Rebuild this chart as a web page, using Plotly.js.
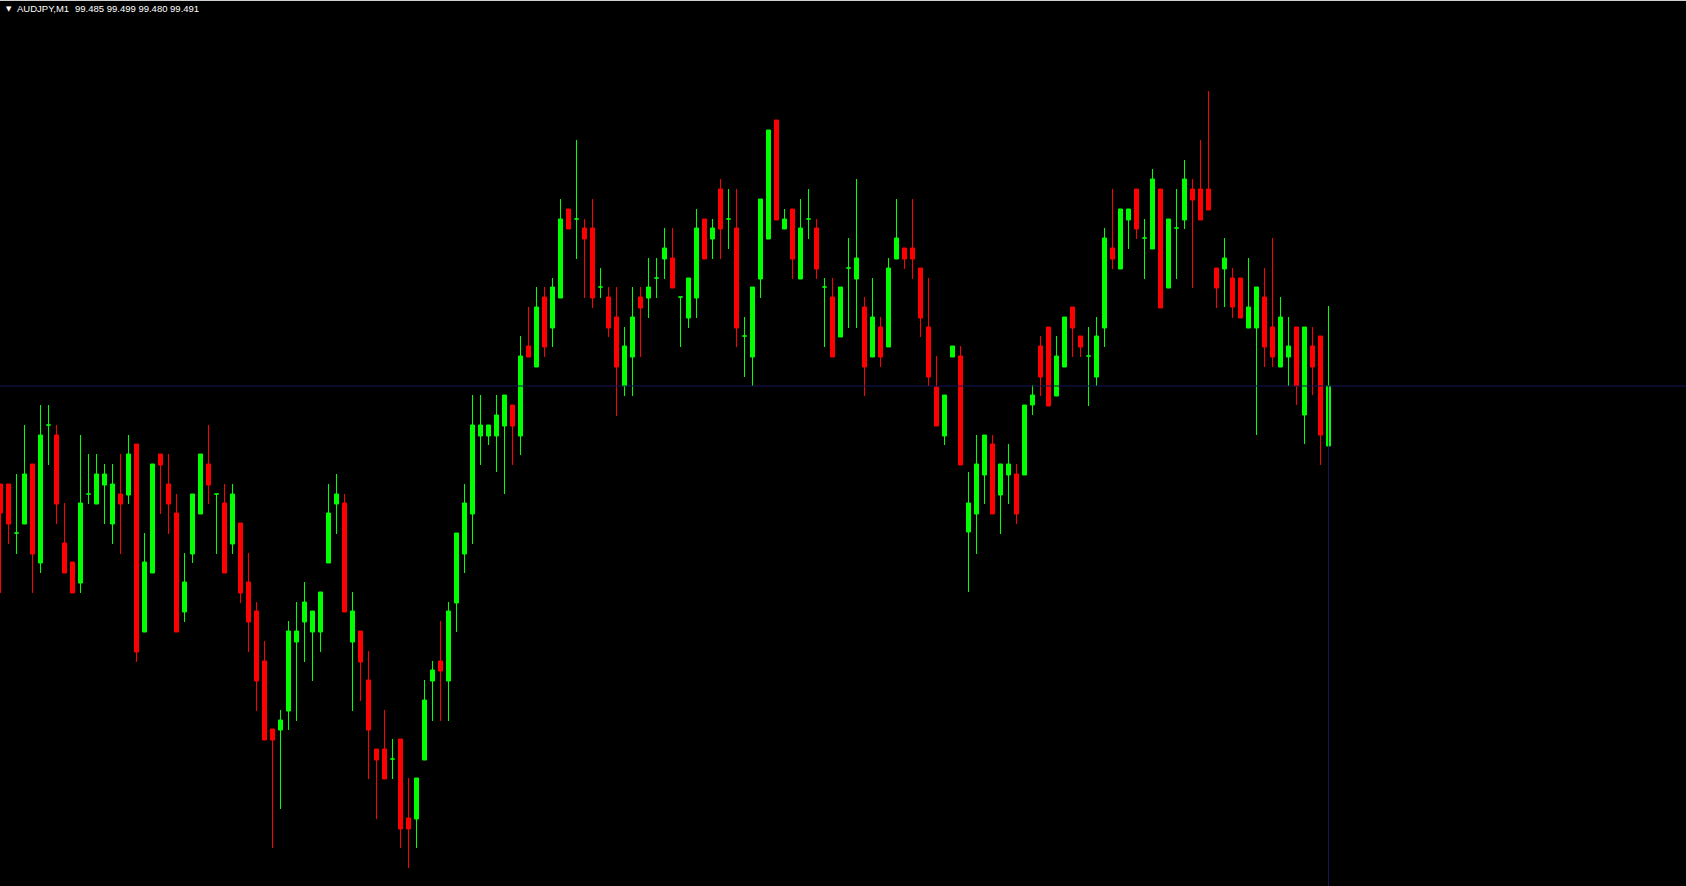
<!DOCTYPE html>
<html><head><meta charset="utf-8">
<script src="https://cdn.plot.ly/plotly-3.0.1.min.js"></script>
<style>html,body{margin:0;padding:0;background:#000;overflow:hidden}#chart{width:1686px;height:886px}</style>
</head><body><div id="chart"></div>
<script>
const symbolLabel = "AUDJPY,M1";
const quoteLabel = "99.485 99.499 99.480 99.491";
const bidPrice = 99.491;

const open = [
99.4812,99.4812,99.4763,99.4772,99.4832,99.4733,99.4871,99.4861,99.4753,99.4734,
99.4713,99.4802,99.4792,99.4811,99.4772,99.4802,99.4801,99.4852,99.4664,99.4723,
99.4842,99.4812,99.4783,99.4684,99.4742,99.4782,99.4832,99.4802,99.4793,99.4752,
99.4773,99.4714,99.4685,99.4635,99.4567,99.4566,99.4585,99.4654,99.4674,99.4664,
99.4664,99.4733,99.4792,99.4793,99.4654,99.4665,99.4616,99.4547,99.4547,99.4537,
99.4557,99.4478,99.4477,99.4536,99.4615,99.4635,99.4615,99.4693,99.4742,99.4782,
99.4860,99.4860,99.4860,99.4870,99.4891,99.4860,99.4950,99.4929,99.4999,99.4968,
99.4998,99.5087,99.5077,99.5068,99.5068,99.5009,99.4999,99.4979,99.4910,99.4939,
99.4999,99.4998,99.5018,99.5037,99.5038,99.4999,99.4978,99.4998,99.5077,99.5057,
99.5107,99.5077,99.5068,99.4960,99.4939,99.5017,99.5057,99.5176,99.5067,99.5087,
99.5017,99.5077,99.5068,99.5009,99.4999,99.4959,99.5028,99.5017,99.4989,99.4939,
99.4969,99.4949,99.5037,99.5048,99.5048,99.5028,99.4969,99.4909,99.4860,99.4939,
99.4940,99.4764,99.4782,99.4821,99.4852,99.4801,99.4821,99.4822,99.4821,99.4891,
99.4950,99.4969,99.4900,99.4929,99.4989,99.4960,99.4940,99.4919,99.4968,99.5048,
99.5027,99.5076,99.5107,99.5058,99.5047,99.5107,99.5008,99.5068,99.5076,99.5107,
99.5107,99.5107,99.5028,99.5027,99.5018,99.5018,99.4968,99.4968,99.4999,99.4969,
99.4929,99.4939,99.4969,99.4881,99.4950,99.4960,99.4850];
const high = [
99.4812,99.4812,99.4822,99.4871,99.4832,99.4891,99.4891,99.4871,99.4793,99.4734,
99.4861,99.4842,99.4842,99.4832,99.4832,99.4842,99.4861,99.4852,99.4763,99.4832,
99.4842,99.4842,99.4802,99.4743,99.4802,99.4842,99.4871,99.4802,99.4812,99.4812,
99.4773,99.4743,99.4694,99.4655,99.4567,99.4586,99.4675,99.4694,99.4714,99.4685,
99.4704,99.4812,99.4822,99.4802,99.4704,99.4665,99.4645,99.4547,99.4586,99.4557,
99.4557,99.4518,99.4518,99.4616,99.4635,99.4675,99.4694,99.4763,99.4812,99.4901,
99.4901,99.4871,99.4901,99.4901,99.4891,99.4960,99.4989,99.5009,99.5009,99.5018,
99.5097,99.5087,99.5156,99.5077,99.5097,99.5028,99.5009,99.5009,99.4969,99.5009,
99.5009,99.5038,99.5038,99.5068,99.5068,99.4999,99.5018,99.5087,99.5077,99.5077,
99.5117,99.5107,99.5107,99.4979,99.5009,99.5097,99.5166,99.5176,99.5087,99.5087,
99.5097,99.5107,99.5077,99.5018,99.5018,99.5009,99.5058,99.5117,99.4999,99.5018,
99.4979,99.5038,99.5097,99.5048,99.5097,99.5028,99.5018,99.4940,99.4901,99.4950,
99.4950,99.4824,99.4861,99.4861,99.4861,99.4832,99.4852,99.4832,99.4891,99.4911,
99.4960,99.4969,99.4960,99.4979,99.4989,99.4960,99.4969,99.4979,99.5068,99.5107,
99.5087,99.5087,99.5107,99.5077,99.5127,99.5107,99.5077,99.5107,99.5136,99.5117,
99.5156,99.5205,99.5028,99.5058,99.5028,99.5018,99.5038,99.5009,99.5028,99.5058,
99.4999,99.4979,99.4969,99.4969,99.4969,99.4960,99.4990];
const low = [
99.4703,99.4752,99.4742,99.4772,99.4703,99.4723,99.4831,99.4772,99.4723,99.4703,
99.4703,99.4792,99.4792,99.4772,99.4752,99.4742,99.4792,99.4634,99.4664,99.4723,
99.4782,99.4762,99.4664,99.4674,99.4733,99.4782,99.4792,99.4742,99.4723,99.4742,
99.4693,99.4644,99.4585,99.4556,99.4448,99.4487,99.4566,99.4575,99.4634,99.4615,
99.4644,99.4733,99.4762,99.4684,99.4585,99.4595,99.4517,99.4477,99.4517,99.4517,
99.4448,99.4428,99.4448,99.4536,99.4575,99.4575,99.4575,99.4664,99.4723,99.4752,
99.4831,99.4851,99.4824,99.4802,99.4831,99.4841,99.4939,99.4929,99.4939,99.4949,
99.4998,99.5067,99.5037,99.4998,99.4988,99.4998,99.4959,99.4880,99.4900,99.4900,
99.4939,99.4978,99.4998,99.5017,99.5008,99.4949,99.4968,99.4978,99.5037,99.5037,
99.5037,99.5047,99.4949,99.4919,99.4910,99.4998,99.5057,99.5076,99.5067,99.5017,
99.5017,99.5057,99.5017,99.4949,99.4939,99.4959,99.4968,99.4968,99.4900,99.4939,
99.4929,99.4949,99.5037,99.5027,99.5017,99.4959,99.4910,99.4870,99.4851,99.4939,
99.4831,99.4704,99.4742,99.4792,99.4782,99.4762,99.4792,99.4772,99.4821,99.4881,
99.4900,99.4890,99.4900,99.4929,99.4939,99.4939,99.4890,99.4910,99.4949,99.5027,
99.5027,99.5047,99.5057,99.5017,99.5047,99.4988,99.5008,99.5017,99.5067,99.5008,
99.5076,99.5086,99.4988,99.4989,99.4978,99.4978,99.4968,99.4861,99.4929,99.4929,
99.4929,99.4910,99.4891,99.4852,99.4901,99.4831,99.4800];
const close = [
99.4783,99.4772,99.4763,99.4822,99.4742,99.4861,99.4871,99.4792,99.4723,99.4703,
99.4793,99.4802,99.4822,99.4822,99.4812,99.4792,99.4842,99.4644,99.4734,99.4832,
99.4831,99.4792,99.4664,99.4714,99.4802,99.4842,99.4811,99.4802,99.4723,99.4802,
99.4703,99.4674,99.4615,99.4556,99.4556,99.4576,99.4665,99.4665,99.4694,99.4685,
99.4704,99.4783,99.4802,99.4684,99.4685,99.4634,99.4566,99.4536,99.4517,99.4537,
99.4467,99.4467,99.4518,99.4596,99.4626,99.4625,99.4685,99.4763,99.4793,99.4871,
99.4871,99.4871,99.4881,99.4901,99.4870,99.4940,99.4939,99.4989,99.4949,99.5009,
99.5077,99.5067,99.5077,99.5057,99.4998,99.5009,99.4968,99.4929,99.4950,99.4979,
99.4988,99.5009,99.5018,99.5048,99.5008,99.4999,99.5018,99.5068,99.5037,99.5068,
99.5067,99.5077,99.4968,99.4960,99.5009,99.5097,99.5166,99.5076,99.5077,99.5037,
99.5068,99.5077,99.5027,99.5009,99.4939,99.5009,99.5028,99.5038,99.4929,99.4979,
99.4939,99.5028,99.5058,99.5037,99.5037,99.4978,99.4919,99.4870,99.4901,99.4950,
99.4831,99.4793,99.4832,99.4861,99.4782,99.4832,99.4832,99.4782,99.4891,99.4901,
99.4919,99.4890,99.4940,99.4979,99.4968,99.4949,99.4940,99.4960,99.5058,99.5037,
99.5087,99.5087,99.5067,99.5058,99.5117,99.4988,99.5077,99.5068,99.5117,99.5096,
99.5076,99.5086,99.5008,99.5038,99.4989,99.4978,99.4989,99.5009,99.4949,99.4939,
99.4979,99.4950,99.4910,99.4969,99.4929,99.4861,99.4910];

const UP = '#00ff00', DOWN = '#ff0000';
const idx = open.map((_, i) => i);
function pick(cond) {
  const r = {x: [], open: [], high: [], low: [], close: []};
  idx.forEach(i => {
    if (cond(i)) { r.x.push(i); r.open.push(open[i]); r.high.push(high[i]); r.low.push(low[i]); r.close.push(close[i]); }
  });
  return r;
}
function candle(sub, col) {
  return Object.assign({
    type: 'candlestick',
    increasing: {line: {color: col, width: 1}, fillcolor: col},
    decreasing: {line: {color: col, width: 1}, fillcolor: col},
    whiskerwidth: 0, hoverinfo: 'skip', showlegend: false
  }, sub);
}
const bull = candle(pick(i => close[i] >= open[i]), UP);
const bear = candle(pick(i => close[i] < open[i]), DOWN);

const PITCH = 8, W = 1686, H = 886;
const x0 = -0.5 / PITCH;
const yTop = 99.5296, yBot = 99.4410;
const lastIdx = open.length - 1;
const lineCol = '#14145a';

const layout = {
  width: W, height: H,
  margin: {l: 0, r: 0, t: 0, b: 0, pad: 0},
  paper_bgcolor: '#000000', plot_bgcolor: '#000000',
  showlegend: false,
  boxgap: 0, boxgroupgap: 0.5,
  xaxis: {type: 'linear', range: [x0, x0 + W / PITCH], visible: false, rangeslider: {visible: false}, fixedrange: true},
  yaxis: {range: [yBot, yTop], visible: false, fixedrange: true},
  shapes: [
    {type: 'line', xref: 'paper', yref: 'y', x0: 0, x1: 1, y0: bidPrice, y1: bidPrice, line: {color: lineCol, width: 1}, layer: 'above'},
    {type: 'line', xref: 'x', yref: 'y', x0: lastIdx, x1: lastIdx, y0: bidPrice, y1: yBot, line: {color: lineCol, width: 1}, layer: 'above'},
    {type: 'line', xref: 'paper', yref: 'paper', x0: 0, x1: 1, y0: 1 - 0.5 / H, y1: 1 - 0.5 / H, line: {color: '#d0d0d0', width: 1}, layer: 'above'}
  ],
  annotations: [
    {xref: 'paper', yref: 'paper', x: 4 / W, y: 1 - 8.5 / H, xanchor: 'left', yanchor: 'middle', text: '▼', showarrow: false, font: {family: 'DejaVu Sans', size: 7, color: '#ffffff'}},
    {xref: 'paper', yref: 'paper', x: 15 / W, y: 1 - 8.5 / H, xanchor: 'left', yanchor: 'middle', text: symbolLabel, showarrow: false, font: {family: 'Liberation Sans, Arial', size: 9.5, color: '#ffffff'}},
    {xref: 'paper', yref: 'paper', x: 73 / W, y: 1 - 8.5 / H, xanchor: 'left', yanchor: 'middle', text: quoteLabel, showarrow: false, font: {family: 'Liberation Sans, Arial', size: 9.5, color: '#ffffff'}}
  ]
};
Plotly.newPlot('chart', [bull, bear], layout, {staticPlot: true, displayModeBar: false});
</script>
</body></html>
